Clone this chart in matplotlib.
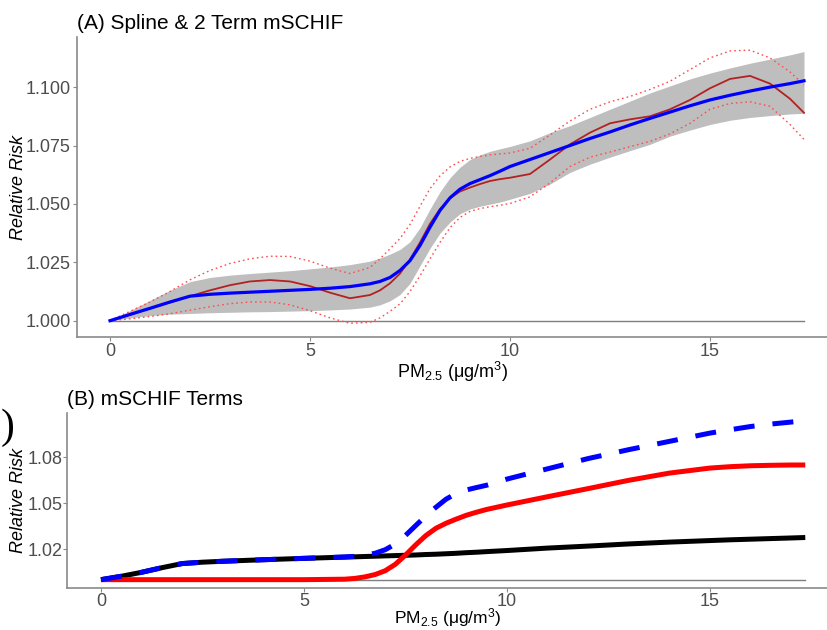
import matplotlib
matplotlib.use("Agg")
import matplotlib.pyplot as plt

plt.rcParams['font.family'] = ['Liberation Sans', 'DejaVu Sans']
plt.rcParams['mathtext.fontset'] = 'custom'
plt.rcParams['mathtext.rm'] = 'Liberation Sans'
plt.rcParams['mathtext.it'] = 'Liberation Sans:italic'

# ---------------- Panel A data ----------------
x_a = [0, 0.5, 1, 1.5, 2, 2.5, 3, 3.5, 4, 4.5, 5, 5.5, 6,
       6.5, 6.75, 7, 7.25, 7.5, 7.75, 8, 8.25, 8.5, 8.75, 9, 9.25, 9.5, 9.75, 10,
       10.5, 11, 11.5, 12, 12.5, 13, 13.5, 14, 14.5, 15, 15.5, 16, 16.5, 17,
       17.35]
mschif_fit = [1.000, 1.0027, 1.0053, 1.0080, 1.0105, 1.0113, 1.0118, 1.0122, 1.0126, 1.0130, 1.0134, 1.0139, 1.0146,
              1.0158, 1.0168, 1.0185, 1.0215, 1.0257, 1.0322, 1.0400, 1.0472, 1.0526, 1.0563, 1.0587, 1.0604, 1.0621, 1.0640, 1.0660,
              1.0690, 1.0720, 1.0750, 1.0780, 1.0808, 1.0838, 1.0866, 1.0893, 1.0920, 1.0945, 1.0965, 1.0983, 1.1000, 1.1015,
              1.1027]
mschif_upper = [1.000, 1.0043, 1.0087, 1.0130, 1.0167, 1.0185, 1.0195, 1.0202, 1.0208, 1.0214, 1.0222, 1.0230, 1.0240,
                1.0255, 1.0268, 1.0285, 1.0305, 1.0338, 1.0398, 1.0478, 1.0552, 1.0612, 1.0657, 1.0690, 1.0710, 1.0725, 1.0736, 1.0746,
                1.0770, 1.0805, 1.0835, 1.0870, 1.0905, 1.0940, 1.0975, 1.1005, 1.1035, 1.1060, 1.1082, 1.1102, 1.1120, 1.1138,
                1.1152]
mschif_lower = [1.000, 1.0012, 1.0022, 1.0028, 1.0031, 1.0034, 1.0036, 1.0038, 1.0039, 1.0041, 1.0043, 1.0046, 1.0050,
                1.0058, 1.0068, 1.0085, 1.0112, 1.0160, 1.0235, 1.0310, 1.0375, 1.0422, 1.0458, 1.0478, 1.0490, 1.0499, 1.0508, 1.0520,
                1.0545, 1.0585, 1.0635, 1.0670, 1.0700, 1.0728, 1.0755, 1.0790, 1.0816, 1.0840, 1.0858, 1.0870, 1.0878, 1.0885,
                1.0888]
spline_fit = [1.000, 1.0025, 1.0052, 1.0078, 1.0105, 1.0130, 1.0152, 1.0168, 1.0174, 1.0168, 1.0148, 1.0120, 1.0096,
              1.0110, 1.0130, 1.0160, 1.0202, 1.0262, 1.0335, 1.0415, 1.0478, 1.0524, 1.0553, 1.0570, 1.0585, 1.0598, 1.0606, 1.0612,
              1.0628, 1.0690, 1.0755, 1.0805, 1.0845, 1.0862, 1.0875, 1.0905, 1.0945, 1.0995, 1.1035, 1.1048, 1.1015, 1.0950,
              1.0890]
spline_upper = [1.000, 1.0040, 1.0080, 1.0125, 1.0175, 1.0215, 1.0245, 1.0265, 1.0276, 1.0275, 1.0255, 1.0225, 1.0202,
                1.0228, 1.0265, 1.0308, 1.0352, 1.0412, 1.0490, 1.0565, 1.0620, 1.0658, 1.0682, 1.0695, 1.0703, 1.0710, 1.0714, 1.0718,
                1.0738, 1.0795, 1.0855, 1.0905, 1.0937, 1.0960, 1.0990, 1.1025, 1.1075, 1.1125, 1.1155, 1.1158, 1.1125, 1.1065,
                1.1010]
spline_lower = [1.000, 1.0008, 1.0018, 1.0030, 1.0045, 1.0060, 1.0073, 1.0080, 1.0080, 1.0068, 1.0043, 1.0012, 0.9989,
                0.9993, 1.0012, 1.0040, 1.0072, 1.0125, 1.0192, 1.0265, 1.0335, 1.0398, 1.0442, 1.0468, 1.0480, 1.0488, 1.0494, 1.0502,
                1.0530, 1.0590, 1.0660, 1.0700, 1.0722, 1.0745, 1.0768, 1.0800, 1.0845, 1.0905, 1.0930, 1.0937, 1.0918, 1.0840,
                1.0776]

# ---------------- Panel B data ----------------
x_b = [0, 0.5, 1, 1.5, 2, 2.5, 3, 4, 5,
       6, 6.25, 6.5, 6.75, 7, 7.25, 7.5, 7.75, 8, 8.25, 8.5, 8.75, 9, 9.25, 9.5,
       10, 10.5, 11, 12, 13, 14, 15, 15.5, 16, 16.5, 17, 17.35]
term1 = [1.000, 1.0022, 1.0048, 1.0078, 1.0105, 1.0114, 1.0120, 1.0130, 1.0139,
         1.0147, 1.0149, 1.0151, 1.0153, 1.0155, 1.0157, 1.0159, 1.0161, 1.0164, 1.0166, 1.0169, 1.0172, 1.0176, 1.0179, 1.0183,
         1.0190, 1.0198, 1.0206, 1.0219, 1.0233, 1.0245, 1.0255, 1.0260, 1.0264, 1.0268, 1.0272, 1.0275]
term2 = [1.000, 1.000, 1.000, 1.000, 1.000, 1.000, 1.000, 1.000, 1.000,
         1.0003, 1.0008, 1.0018, 1.0033, 1.0058, 1.0100, 1.0160, 1.0226, 1.0287, 1.0335, 1.0368, 1.0395, 1.0420, 1.0440, 1.0458,
         1.0487, 1.0514, 1.0541, 1.0594, 1.0648, 1.0695, 1.0728, 1.0737, 1.0743, 1.0746, 1.0748, 1.0748]
combined = [1.000, 1.0022, 1.0048, 1.0078, 1.0105, 1.0114, 1.0120, 1.0130, 1.0139,
            1.0148, 1.0152, 1.0160, 1.0172, 1.0195, 1.0232, 1.0288, 1.0352, 1.0415, 1.0472, 1.0525, 1.0562, 1.0585, 1.0601, 1.0616,
            1.0656, 1.0690, 1.0723, 1.0790, 1.0848, 1.0902, 1.0956, 1.0978, 1.0999, 1.1015, 1.1028, 1.1037]

xticks = [0, 5, 10, 15]
yticks_a = [1.000, 1.025, 1.050, 1.075, 1.100]
yticks_b = [1.02, 1.05, 1.08]
baseline = 1.0

W, H = 828, 630
fig = plt.figure(figsize=(W / 100, H / 100), dpi=100)

axA = fig.add_axes([77 / W, 1 - 337 / H, (W - 77) / W, 300 / H])
axB = fig.add_axes([67 / W, 1 - 588 / H, (W - 67) / W, 175 / H])

spine_col = '#8a8a8a'
tick_col = '#4d4d4d'
xlab = r'PM$_{2.5}$ ($\mathrm{\mu g}$$/$m$^3$)'

def style(ax, pad=1.5):
    for s in ['top', 'right']:
        ax.spines[s].set_visible(False)
    for s in ['left', 'bottom']:
        ax.spines[s].set_color(spine_col)
        ax.spines[s].set_linewidth(1.2)
    ax.tick_params(axis='both', colors=spine_col, labelcolor=tick_col,
                   labelsize=13, length=3, width=0.8, pad=pad)
    ax.set_xticks(xticks)
    ax.set_xticklabels([str(t) for t in xticks])

# ---- Panel A ----
axA.fill_between(x_a, mschif_lower, mschif_upper, color='#bebebe', lw=0, zorder=1)
axA.plot([x_a[0], x_a[-1]], [baseline, baseline], color='#7f7f7f', lw=1.0, zorder=2)
dot = (0, (1.2, 2.2))
axA.plot(x_a, spline_upper, color='#ff4d4d', lw=1.0, ls=dot, zorder=3)
axA.plot(x_a, spline_lower, color='#ff4d4d', lw=1.0, ls=dot, zorder=3)
axA.plot(x_a, spline_fit, color='#b22222', lw=1.3, zorder=4, solid_joinstyle='round')
axA.plot(x_a, mschif_fit, color='#0000ff', lw=2.3, zorder=5, solid_joinstyle='round')
style(axA)
axA.set_xlim(-0.825, 17.95)
axA.set_ylim(0.99302, 1.12145)
axA.set_yticks(yticks_a)
axA.set_yticklabels([f'{t:.3f}' for t in yticks_a])
axA.set_xlabel(xlab, fontsize=13, color='black', va='center')
axA.set_ylabel('Relative Risk', fontsize=13, style='italic', color='black')
axA.xaxis.set_label_coords(0.5, (337 - 372) / 300)
axA.yaxis.set_label_coords((27 - 77) / (W - 77), 0.5)
axA.set_title('(A) Spline & 2 Term mSCHIF', loc='left', fontsize=15, color='black', pad=6)

# ---- Panel B ----
axB.plot([x_b[0], x_b[-1]], [baseline, baseline], color='#7f7f7f', lw=1.0, zorder=1)
axB.plot(x_b, term1, color='black', lw=3.6, solid_capstyle='butt', solid_joinstyle='round', zorder=2)
axB.plot(x_b, term2, color='#ff0000', lw=3.6, solid_capstyle='butt', solid_joinstyle='round', zorder=3)
axB.plot(x_b, combined, color='#0000ff', lw=3.6, dashes=(4.2, 3.6), dash_capstyle='butt', zorder=4)
style(axB, pad=0.5)
axB.set_xlim(-0.837, 17.91)
axB.set_ylim(0.99456, 1.10872)
axB.set_yticks(yticks_b)
axB.set_yticklabels([f'{t:.2f}' for t in yticks_b])
axB.set_xlabel(xlab, fontsize=12.5, color='black', va='bottom')
axB.set_ylabel('Relative Risk', fontsize=13, style='italic', color='black')
axB.xaxis.set_label_coords(0.5, (588 - 629) / 175)
axB.yaxis.set_label_coords((27 - 67) / (W - 67), 0.5)
axB.set_title('(B) mSCHIF Terms', loc='left', fontsize=15, color='black', pad=6)

# cropped parenthesis fragment at left edge
fig.text(0.0005, 1 - 428 / H, ')', fontsize=30, family='Liberation Serif',
         color='black', va='center', ha='left')

fig.savefig('out.png', dpi=100)
